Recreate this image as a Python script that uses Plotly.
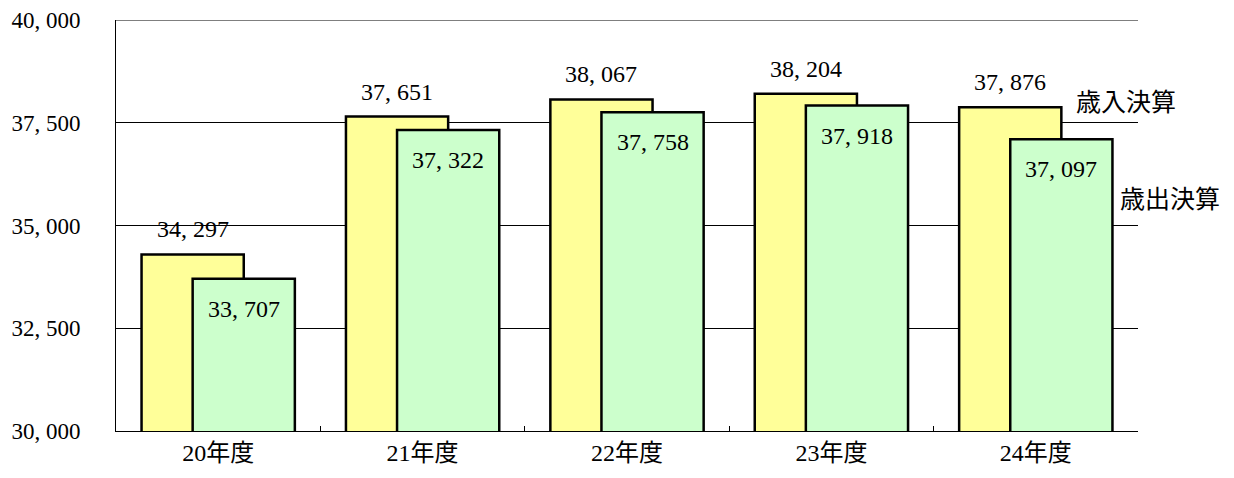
import plotly.graph_objects as go

categories = ["20年度", "21年度", "22年度", "23年度", "24年度"]
revenue = [34297, 37651, 38067, 38204, 37876]      # 歳入決算
expenditure = [33707, 37322, 37758, 37918, 37097]  # 歳出決算
tick_vals = [30000, 32500, 35000, 37500, 40000]
series_names = ["歳入決算", "歳出決算"]

def fmt(v):
    return f"{v:,}".replace(",", ", ")

NUM_FONT = "Liberation Serif, Noto Sans CJK JP, serif"
JP_FONT = "Liberation Serif, Noto Sans CJK JP, serif"

fig = go.Figure()
fig.add_trace(go.Bar(
    x=categories, y=revenue, name=series_names[0],
    width=0.5, offset=-0.375,
    marker=dict(color="#FFFF99", line=dict(color="black", width=2.5)),
))
fig.add_trace(go.Bar(
    x=categories, y=expenditure, name=series_names[1],
    width=0.5, offset=-0.125,
    marker=dict(color="#CCFFCC", line=dict(color="black", width=2.5)),
))

annotations = []
for i, (c, r, e) in enumerate(zip(categories, revenue, expenditure)):
    annotations.append(dict(x=i - 0.125, y=r, xref="x", yref="y", text=fmt(r),
                            showarrow=False, yshift=25, yanchor="middle",
                            font=dict(family=NUM_FONT, size=24, color="black")))
    annotations.append(dict(x=i + 0.125, y=e, xref="x", yref="y", text=fmt(e),
                            showarrow=False, yshift=-30, yanchor="middle",
                            font=dict(family=NUM_FONT, size=24, color="black")))

annotations.append(dict(x=0.937, y=0.805, xref="paper", yref="paper", text=series_names[0],
                        showarrow=False, xanchor="left", yanchor="middle",
                        font=dict(family="Noto Sans CJK JP", size=25, color="black")))
annotations.append(dict(x=0.98, y=0.569, xref="paper", yref="paper", text=series_names[1],
                        showarrow=False, xanchor="left", yanchor="middle",
                        font=dict(family="Noto Sans CJK JP", size=25, color="black")))

fig.update_layout(
    barmode="overlay",
    width=1226, height=470,
    margin=dict(l=108, r=96, t=12, b=47),
    paper_bgcolor="white", plot_bgcolor="white",
    showlegend=False,
    annotations=annotations,
    shapes=[dict(type="line", xref="paper", yref="y", x0=0, x1=1,
                 y0=tick_vals[-1], y1=tick_vals[-1],
                 line=dict(color="black", width=1), layer="below")],
    xaxis=dict(
        type="category",
        automargin=False,
        showline=True, linecolor="black", linewidth=1,
        ticks="inside", tickson="boundaries", ticklen=5, tickcolor="black",
        showgrid=False,
        tickfont=dict(family=JP_FONT, size=24, color="black"),
        range=[-0.5, 4.5],
    ),
    yaxis=dict(
        automargin=False,
        range=[30000, 40000],
        tickvals=tick_vals,
        ticktext=[fmt(v) for v in tick_vals],
        showline=True, linecolor="black", linewidth=1,
        showgrid=True, gridcolor="black", gridwidth=1,
        ticks="", ticklabelstandoff=30, ticklabeloverflow="allow",
        tickfont=dict(family=NUM_FONT, size=23, color="black"),
        zeroline=False,
    ),
)

fig.write_html("out.html")
